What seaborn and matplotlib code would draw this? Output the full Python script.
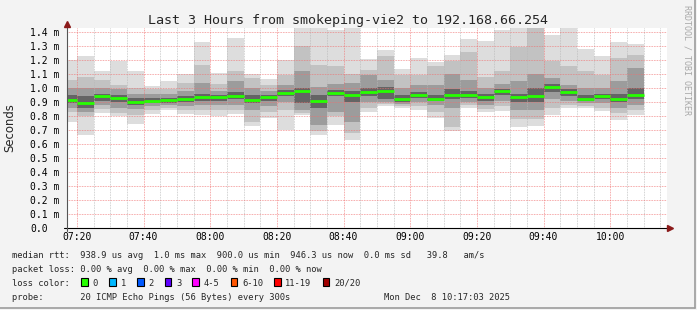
import matplotlib
matplotlib.use("Agg")
import matplotlib.pyplot as plt
import numpy as np
import pandas as pd
import seaborn as sns
from matplotlib.patches import Rectangle
from matplotlib.lines import Line2D
from matplotlib.ticker import MultipleLocator

# ---------------- data (values in ms) ----------------
bar_starts = ["07:15", "07:20", "07:25", "07:30", "07:35", "07:40", "07:45",
              "07:50", "07:55", "08:00", "08:05", "08:10", "08:15", "08:20",
              "08:25", "08:30", "08:35", "08:40", "08:45", "08:50", "08:55",
              "09:00", "09:05", "09:10", "09:15", "09:20", "09:25", "09:30",
              "09:35", "09:40", "09:45", "09:50", "09:55", "10:00", "10:05"]
smoke_max = [1.20, 1.23, 1.12, 1.19, 1.12, 1.017, 1.05, 1.10, 1.326, 1.107,
             1.36, 1.10, 1.067, 1.20, 1.43, 1.43, 1.416, 1.43, 1.21, 1.274,
             1.138, 1.214, 1.186, 1.238, 1.352, 1.338, 1.417, 1.43, 1.43,
             1.376, 1.43, 1.28, 1.226, 1.326, 1.314]
smoke_hi2 = [1.06, 1.076, 1.06, 1.02, 1.00, 0.99, 0.99, 1.036, 1.167, 1.03,
             1.12, 1.07, 1.024, 1.095, 1.30, 1.166, 1.16, 1.10, 1.13, 1.226,
             1.095, 1.095, 1.155, 1.19, 1.26, 1.076, 1.124, 1.29, 1.43,
             1.193, 1.155, 1.12, 1.095, 1.214, 1.238]
smoke_hi3 = [1.00, 1.00, 1.00, 0.99, 0.96, 0.96, 0.96, 0.98, 1.035, 0.98,
             1.05, 1.00, 0.98, 1.02, 1.12, 1.01, 1.03, 1.036, 1.095, 1.06,
             1.00, 1.02, 1.02, 1.10, 1.06, 1.00, 1.03, 1.05, 1.10,
             1.07, 1.02, 1.00, 1.00, 1.05, 1.143]
smoke_hi4 = [0.95, 0.94, 0.96, 0.95, 0.93, 0.93, 0.93, 0.94, 0.96, 0.95,
             0.97, 0.95, 0.95, 0.985, 1.00, 0.95, 0.985, 0.98, 1.00, 1.01,
             0.95, 0.97, 0.95, 0.99, 0.98, 0.96, 0.99, 0.96, 1.00,
             1.03, 0.99, 0.95, 0.96, 0.96, 1.00]
median_rtt = [0.914, 0.895, 0.940, 0.926, 0.900, 0.905, 0.912, 0.920, 0.933,
              0.933, 0.940, 0.917, 0.933, 0.962, 0.976, 0.907, 0.962, 0.950,
              0.970, 0.976, 0.924, 0.948, 0.924, 0.952, 0.950, 0.933, 0.976,
              0.933, 0.940, 1.005, 0.969, 0.924, 0.940, 0.924, 0.948]
smoke_lo4 = [0.89, 0.86, 0.91, 0.90, 0.88, 0.89, 0.895, 0.90, 0.91, 0.91,
             0.92, 0.89, 0.91, 0.94, 0.89, 0.857, 0.94, 0.90, 0.94, 0.92,
             0.90, 0.93, 0.91, 0.92, 0.93, 0.91, 0.95, 0.90, 0.90,
             0.97, 0.94, 0.91, 0.92, 0.90, 0.92]
smoke_lo3 = [0.86, 0.83, 0.88, 0.86, 0.85, 0.87, 0.88, 0.87, 0.88, 0.88,
             0.88, 0.84, 0.87, 0.90, 0.845, 0.737, 0.83, 0.76, 0.90, 0.90,
             0.885, 0.90, 0.88, 0.86, 0.90, 0.88, 0.91, 0.84, 0.84,
             0.92, 0.91, 0.89, 0.89, 0.86, 0.88]
smoke_lo2 = [0.83, 0.80, 0.85, 0.82, 0.81, 0.84, 0.86, 0.84, 0.84, 0.84,
             0.84, 0.76, 0.83, 0.84, 0.82, 0.69, 0.80, 0.68, 0.86, 0.885,
             0.87, 0.87, 0.83, 0.72, 0.88, 0.85, 0.87, 0.78, 0.78,
             0.86, 0.88, 0.87, 0.86, 0.82, 0.84]
smoke_min = [0.755, 0.667, 0.82, 0.80, 0.74, 0.815, 0.845, 0.815, 0.81, 0.80,
             0.815, 0.726, 0.786, 0.70, 0.81, 0.667, 0.738, 0.626, 0.826, 0.87,
             0.86, 0.845, 0.786, 0.695, 0.857, 0.83, 0.833, 0.72, 0.726,
             0.81, 0.857, 0.857, 0.838, 0.774, 0.81]

y_ticks = [0.0, 0.1, 0.2, 0.3, 0.4, 0.5, 0.6, 0.7, 0.8, 0.9, 1.0, 1.1, 1.2, 1.3, 1.4]
y_tick_labels = ["0.0", "0.1 m", "0.2 m", "0.3 m", "0.4 m", "0.5 m", "0.6 m",
                 "0.7 m", "0.8 m", "0.9 m", "1.0 m", "1.1 m", "1.2 m", "1.3 m", "1.4 m"]
x_tick_labels = ["07:20", "07:40", "08:00", "08:20", "08:40", "09:00", "09:20",
                 "09:40", "10:00"]
window_start = "07:17:03"
window_end = "10:17:03"
bar_minutes = 5

loss_labels = ["0", "1", "2", "3", "4-5", "6-10", "11-19", "20/20"]
loss_colors = ["#26ff00", "#00b8ff", "#0059ff", "#5e00ff", "#ff00ff",
               "#ff5500", "#ff0000", "#a10000"]

title = "Last 3 Hours from smokeping-vie2 to 192.168.66.254"
legend_rtt = "median rtt:  938.9 us avg  1.0 ms max  900.0 us min  946.3 us now  0.0 ms sd   39.8   am/s"
legend_loss = "packet loss: 0.00 % avg  0.00 % max  0.00 % min  0.00 % now"
legend_probe = "probe:       20 ICMP Echo Pings (56 Bytes) every 300s"
stamp = "Mon Dec  8 10:17:03 2025"


def to_min(s):
    parts = [int(p) for p in s.split(":")]
    m = (parts[0] - 7) * 60 + parts[1]
    if len(parts) > 2:
        m += parts[2] / 60.0
    return m

# ---------------- figure ----------------
sns.set_style("white")
plt.rcParams["font.family"] = ["DejaVu Sans Mono", "DejaVu Sans"]

W, H = 697, 310
BG = "#f3f3f3"
fig = plt.figure(figsize=(W / 100, H / 100), dpi=100, facecolor=BG)
fx = lambda px: px / W
fy = lambda py: 1 - py / H

ax = fig.add_axes([fx(67), fy(228), 600 / W, 200 / H])
ax.set_facecolor("white")

t = np.array([to_min(s) for s in bar_starts])
layers = [(smoke_min, smoke_max, "#dddddd"),
          (smoke_lo2, smoke_hi2, "#c2c2c2"),
          (smoke_lo3, smoke_hi3, "#9c9c9c"),
          (smoke_lo4, smoke_hi4, "#646464")]
for lo, hi, col in layers:
    lo = np.array(lo); hi = np.array(hi)
    ax.bar(t, hi - lo, bottom=lo, width=bar_minutes, align="edge",
           color=col, linewidth=0, zorder=1)

# median as per-interval segments
df = pd.DataFrame({
    "t": np.concatenate([t, t + bar_minutes]),
    "med": np.concatenate([median_rtt, median_rtt]),
    "bar": np.concatenate([np.arange(len(t)), np.arange(len(t))]),
})
sns.lineplot(data=df, x="t", y="med", units="bar", estimator=None,
             color=loss_colors[0], linewidth=2.0, legend=False, ax=ax,
             zorder=4, solid_capstyle="butt")

ax.set_xlim(to_min(window_start), to_min(window_end))
ax.set_ylim(0, 1.4286)

# grid
ax.set_axisbelow(False)
ax.set_yticks(y_ticks)
ax.set_yticklabels(y_tick_labels)
ax.set_xticks([to_min(s) for s in x_tick_labels])
ax.set_xticklabels(x_tick_labels)
ax.xaxis.set_minor_locator(MultipleLocator(bar_minutes))
dots = (0, (0.72, 0.9))
ax.grid(True, which="major", axis="both", color="#f07070", linewidth=0.72,
        linestyle=dots, alpha=0.75, zorder=2.5)
ax.grid(True, which="minor", axis="x", color="#b8b8b8", linewidth=0.72,
        linestyle=dots, alpha=0.8, zorder=2.5)
for g in ax.get_ygridlines():
    if abs(g.get_ydata()[0]) < 1e-9:
        g.set_visible(False)

ax.set_xlabel("")
ax.set_ylabel("")
ax.tick_params(axis="both", which="both", length=0, labelsize=7.0,
               colors="black")
ax.tick_params(axis="y", pad=26.6)
ax.tick_params(axis="x", pad=3.0)
for lbl in ax.get_yticklabels():
    lbl.set_horizontalalignment("left")
for sp in ax.spines.values():
    sp.set_visible(False)

# axis lines with arrows
fig.add_artist(Line2D([fx(64), fx(668)], [fy(228), fy(228)], color="black",
                      linewidth=0.8))
fig.add_artist(Line2D([fx(67), fx(67)], [fy(231), fy(25)], color="#555555",
                      linewidth=0.8))
fig.add_artist(Line2D([fx(670)], [fy(228)], marker=">", markersize=4.5,
                      color="#8b1a1a", linestyle="none"))
fig.add_artist(Line2D([fx(67)], [fy(23.5)], marker="^", markersize=4.5,
                      color="#8b1a1a", linestyle="none"))

# texts
fig.text(fx(347.5), fy(24), title, ha="center", va="baseline",
         fontsize=9.6, family="DejaVu Sans Mono")
fig.text(fx(10), fy(127.5), "Seconds", rotation=90, ha="center",
         va="center", fontsize=8.4, family="DejaVu Sans")
fig.text(fx(687), fy(5), "RRDTOOL / TOBI OETIKER", rotation=270,
         ha="center", va="top", fontsize=6.0, color="#a8a8a8",
         family="DejaVu Sans Mono")

LF = 6.34
fig.text(fx(12), fy(257.7), legend_rtt, ha="left", va="baseline", fontsize=LF)
fig.text(fx(12), fy(271.7), legend_loss, ha="left", va="baseline", fontsize=LF)
fig.text(fx(12), fy(285.7), "loss color:", ha="left", va="baseline", fontsize=LF)
fig.text(fx(12), fy(299.5), legend_probe, ha="left", va="baseline", fontsize=LF)
fig.text(fx(510), fy(299.5), stamp, ha="right", va="baseline", fontsize=LF)

box_x = [81.3, 109.3, 137, 164.7, 192.3, 230.7, 274, 322.7]
for bx, lab, col in zip(box_x, loss_labels, loss_colors):
    fig.add_artist(Rectangle((fx(bx), fy(286)), 6.5 / W, 8 / H,
                             transform=fig.transFigure, facecolor=col,
                             edgecolor="black", linewidth=0.8))
    fig.text(fx(bx + 11.3), fy(285.7), lab, ha="left", va="baseline",
             fontsize=LF)

# frame
fig.add_artist(Line2D([fx(695), fx(695)], [fy(0), fy(308)], color="#9c9c9c",
                      linewidth=1.2))
fig.add_artist(Line2D([fx(0), fx(695)], [fy(307.5), fy(307.5)], color="#9c9c9c",
                      linewidth=1.2))

fig.savefig("out.png", dpi=100, facecolor=BG)
